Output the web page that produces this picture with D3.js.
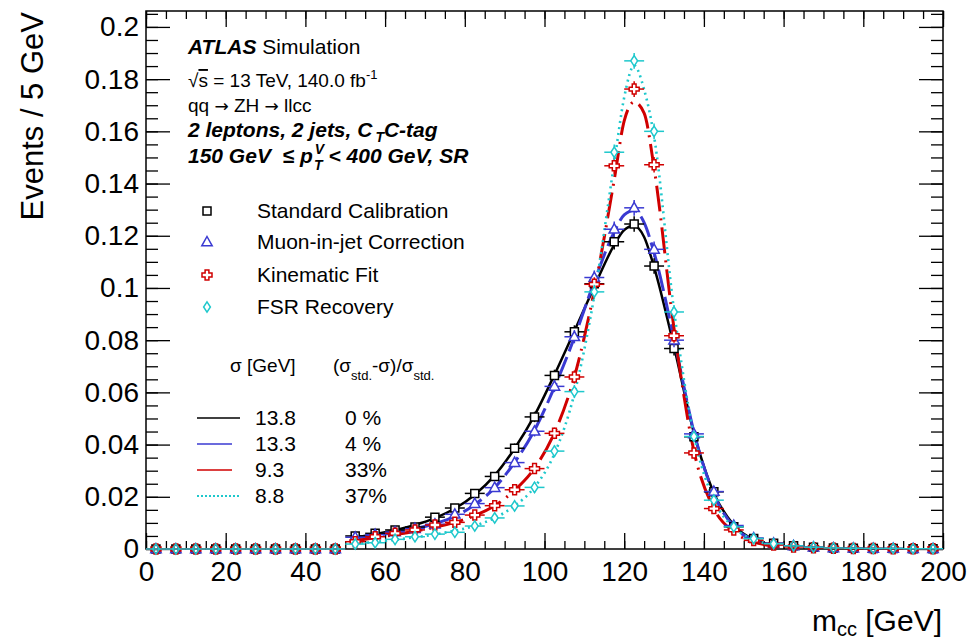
<!DOCTYPE html>
<html>
<head>
<meta charset="utf-8">
<script src="https://cdn.jsdelivr.net/npm/d3@7"></script>
<style>
  body { margin: 0; background: #fff; }
  text { font-family: "Liberation Sans", Arial, Helvetica, sans-serif; }
</style>
</head>
<body>
<svg width="976" height="643"></svg>
<script>
// bin centres, 5 GeV bins
const binCenters = [2.5, 7.5, 12.5, 17.5, 22.5, 27.5, 32.5, 37.5, 42.5, 47.5,
  52.5, 57.5, 62.5, 67.5, 72.5, 77.5, 82.5, 87.5, 92.5, 97.5,
  102.5, 107.5, 112.5, 117.5, 122.5, 127.5, 132.5, 137.5, 142.5, 147.5,
  152.5, 157.5, 162.5, 167.5, 172.5, 177.5, 182.5, 187.5, 192.5, 197.5]

const stdCal = [0, 0, 0, 0, 0, 0, 0, 0, 0, 0,
  0.005, 0.006, 0.0073, 0.0084, 0.0122, 0.0157, 0.0213, 0.0278, 0.0386, 0.0506,
  0.0665, 0.0832, 0.1016, 0.1177, 0.1245, 0.1084, 0.0768, 0.043, 0.0219, 0.0085,
  0.004, 0.0022, 0.0012, 0.0007, 0.0004, 0.0003, 0.0002, 0.0002, 0.0001, 0.0001]
const muonCorr = [0, 0, 0, 0, 0, 0, 0, 0, 0, 0,
  0.0045, 0.0055, 0.0065, 0.0078, 0.0095, 0.0133, 0.0174, 0.0235, 0.0331, 0.0451,
  0.0623, 0.0813, 0.104, 0.1225, 0.1307, 0.1148, 0.08, 0.0441, 0.022, 0.009,
  0.0042, 0.0022, 0.0012, 0.0007, 0.0004, 0.0003, 0.0002, 0.0002, 0.0001, 0.0001]
const kinFit = [0, 0, 0, 0, 0, 0, 0, 0, 0, 0,
  0.0028, 0.0047, 0.006, 0.0073, 0.0092, 0.0102, 0.013, 0.0166, 0.0227, 0.0308,
  0.0443, 0.0659, 0.1014, 0.1468, 0.1762, 0.1472, 0.0817, 0.0368, 0.0155, 0.0073,
  0.0033, 0.0015, 0.0008, 0.0005, 0.0003, 0.0002, 0.0002, 0.0001, 0.0001, 0.0001]
const fsrRec = [0, 0, 0, 0, 0, 0, 0, 0, 0, 0,
  0.0019, 0.0024, 0.0037, 0.0047, 0.0057, 0.0064, 0.0088, 0.0119, 0.0165, 0.0236,
  0.0375, 0.0603, 0.0985, 0.152, 0.187, 0.16, 0.0908, 0.0431, 0.0187, 0.0085,
  0.004, 0.002, 0.0012, 0.0007, 0.0004, 0.0003, 0.0002, 0.0002, 0.0001, 0.0001]
// vertical error half-widths (roughly the same for all four)
const yErr = [0, 0, 0, 0, 0, 0, 0, 0, 0, 0,
  0.0006, 0.0007, 0.0008, 0.0009, 0.001, 0.0012, 0.0014, 0.0016, 0.0018, 0.002,
  0.0022, 0.0025, 0.0027, 0.003, 0.003, 0.003, 0.0027, 0.002, 0.0015, 0.001,
  0.0007, 0.0005, 0.0003, 0.0002, 0.0002, 0.0002, 0.0002, 0.0002, 0.0002, 0.0002]

// fitted curves
const fitX = [52.5, 57.5, 62.5, 67.5, 72.5, 77.5, 82.5, 87.5, 92.5, 97.5, 102.5, 107.5,
  112.5, 117.5, 120, 122.5, 125, 127.5, 132.5, 137.5, 142.5, 147.5, 152.5, 157.5]
const fitStd = [0.0045, 0.0057, 0.0072, 0.0092, 0.0118, 0.0155, 0.0208, 0.0282, 0.0385, 0.0512, 0.0668, 0.0835,
  0.1005, 0.1165, 0.1222, 0.1238, 0.1195, 0.108, 0.0775, 0.0445, 0.0215, 0.0092, 0.0036, 0.0013]
const fitMuon = [0.0042, 0.0052, 0.0064, 0.0078, 0.0097, 0.0125, 0.017, 0.0235, 0.0332, 0.0455, 0.062, 0.081,
  0.1025, 0.1215, 0.128, 0.1297, 0.125, 0.1135, 0.0805, 0.0448, 0.021, 0.0086, 0.0033, 0.0012]
const fitKin = [0.0032, 0.0043, 0.0055, 0.0068, 0.0083, 0.0102, 0.0128, 0.0166, 0.0225, 0.031, 0.0445, 0.066,
  0.099, 0.1415, 0.164, 0.1712, 0.167, 0.146, 0.0845, 0.0375, 0.0155, 0.0065, 0.0027, 0.0011]
const fitFsr = [0.0021, 0.0027, 0.0035, 0.0045, 0.0056, 0.007, 0.0089, 0.0119, 0.0165, 0.0237, 0.0365, 0.0595,
  0.097, 0.148, 0.173, 0.1852, 0.176, 0.158, 0.0915, 0.0435, 0.0188, 0.0083, 0.0036, 0.0015]

const seriesNames = ["Standard Calibration", "Muon-in-jet Correction", "Kinematic Fit", "FSR Recovery"]
const sigmaVals = ["13.8", "13.3", "9.3", "8.8"]
const relGain = ["0 %", "4 %", "33%", "37%"]

const xMajor = [0, 20, 40, 60, 80, 100, 120, 140, 160, 180, 200]
const xTickLabels = ["0", "20", "40", "60", "80", "100", "120", "140", "160", "180", "200"]
const xMinor = d3.range(0, 201, 5)
const yMajor = [0, 0.02, 0.04, 0.06, 0.08, 0.1, 0.12, 0.14, 0.16, 0.18, 0.2]
const yTickLabels = ["0", "0.02", "0.04", "0.06", "0.08", "0.1", "0.12", "0.14", "0.16", "0.18", "0.2"]
const yMinor = d3.range(0, 0.2051, 0.005)

let svg = d3.select("svg")

let x = d3.scaleLinear().domain([0, 200]).range([146, 943])
let y = d3.scaleLinear().domain([0, 0.2061]).range([549, 11])

// frame
svg.append("rect")
  .attr("x", 146).attr("y", 11)
  .attr("width", 797).attr("height", 538)
  .style("fill", "none")
  .style("stroke", "black")
  .style("stroke-width", 1.5)

let axisStyle = g => {
  g.select(".domain").remove()
  g.selectAll("line").style("stroke", "black").style("stroke-width", 1.3)
  g.selectAll("text").style("font-family", "Liberation Sans, Arial, sans-serif").style("fill", "black")
}

// bottom
svg.append("g").attr("transform", "translate(0,549)")
  .call(d3.axisBottom(x).tickValues(xMajor).tickSize(-16).tickPadding(12)
    .tickFormat((d, i) => xTickLabels[i]))
  .call(axisStyle)
  .selectAll("text").style("font-size", "28px")
svg.append("g").attr("transform", "translate(0,549)")
  .call(d3.axisBottom(x).tickValues(xMinor).tickSize(-8).tickFormat(""))
  .call(axisStyle)
// top
svg.append("g").attr("transform", "translate(0,11)")
  .call(d3.axisTop(x).tickValues(xMajor).tickSize(-16).tickFormat(""))
  .call(axisStyle)
svg.append("g").attr("transform", "translate(0,11)")
  .call(d3.axisTop(x).tickValues(xMinor).tickSize(-8).tickFormat(""))
  .call(axisStyle)
// left
svg.append("g").attr("transform", "translate(146,0)")
  .call(d3.axisLeft(y).tickValues(yMajor).tickSize(-24).tickPadding(7)
    .tickFormat((d, i) => yTickLabels[i]))
  .call(axisStyle)
  .selectAll("text").style("font-size", "28px")
svg.append("g").attr("transform", "translate(146,0)")
  .call(d3.axisLeft(y).tickValues(yMinor).tickSize(-12).tickFormat(""))
  .call(axisStyle)
// right
svg.append("g").attr("transform", "translate(943,0)")
  .call(d3.axisRight(y).tickValues(yMajor).tickSize(-24).tickFormat(""))
  .call(axisStyle)
svg.append("g").attr("transform", "translate(943,0)")
  .call(d3.axisRight(y).tickValues(yMinor).tickSize(-12).tickFormat(""))
  .call(axisStyle)

// axis titles
svg.append("text")
  .attr("transform", "translate(43,12) rotate(-90)")
  .attr("text-anchor", "end")
  .style("font-size", "31px")
  .text("Events / 5 GeV")

let xt = svg.append("text")
  .attr("x", 942).attr("y", 631)
  .attr("text-anchor", "end")
  .style("font-size", "30px")
xt.append("tspan").text("m")
xt.append("tspan").attr("dy", 5).style("font-size", "20px").text("cc")
xt.append("tspan").attr("dy", -5).text(" [GeV]")

// marker shapes
const shapes = {
  square: "M-4,-4H4V4H-4Z",
  triangle: "M0,-5.5L5.2,3.8H-5.2Z",
  cross: "M-1.9,-5H1.9V-1.9H5V1.9H1.9V5H-1.9V1.9H-5V-1.9H-1.9Z",
  diamond: "M0,-5.2L3.4,0L0,5.2L-3.4,0Z"
}

const series = [
  { vals: stdCal, fit: fitStd, color: "#000000", shape: "square", dash: null, lw: 2.5 },
  { vals: muonCorr, fit: fitMuon, color: "#3a3ad2", shape: "triangle", dash: "22,6", lw: 3 },
  { vals: kinFit, fit: fitKin, color: "#d00000", shape: "cross", dash: "26,7,2,7", lw: 3 },
  { vals: fsrRec, fit: fitFsr, color: "#1ec8cc", shape: "diamond", dash: "2,4", lw: 2.6 }
]

let line = d3.line()
  .x((d, i) => x(fitX[i]))
  .y(d => y(d))
  .curve(d3.curveMonotoneX)

series.forEach(s => {
  svg.append("path")
    .datum(s.fit)
    .attr("d", line)
    .style("fill", "none")
    .style("stroke", s.color)
    .style("stroke-width", s.lw)
    .style("stroke-dasharray", s.dash)
})

series.forEach(s => {
  let g = svg.append("g")
  s.vals.forEach((v, i) => {
    let c = binCenters[i]
    g.append("line")
      .attr("x1", x(c - 2.5)).attr("x2", x(c + 2.5))
      .attr("y1", y(v)).attr("y2", y(v))
      .style("stroke", s.color).style("stroke-width", 1.5)
    if (yErr[i] > 0) {
      g.append("line")
        .attr("x1", x(c)).attr("x2", x(c))
        .attr("y1", y(v - yErr[i])).attr("y2", y(v + yErr[i]))
        .style("stroke", s.color).style("stroke-width", 1.5)
    }
    g.append("path")
      .attr("d", shapes[s.shape])
      .attr("transform", `translate(${x(c)},${y(v)})`)
      .style("fill", v > 0.0015 ? "white" : "none")
      .style("stroke", s.color)
      .style("stroke-width", 1.5)
  })
})

// ATLAS label
let t1 = svg.append("text").attr("x", 188).attr("y", 54).style("font-size", "21px")
t1.append("tspan").style("font-weight", "bold").style("font-style", "italic").text("ATLAS")
t1.append("tspan").text(" Simulation")

let t2 = svg.append("text").attr("x", 188).attr("y", 87).style("font-size", "19px")
t2.append("tspan").text("\u221A")
t2.append("tspan").style("text-decoration", "overline").text("s")
t2.append("tspan").text(" = 13 TeV, 140.0 fb")
t2.append("tspan").attr("dy", -8).style("font-size", "13px").text("-1")

let t3 = svg.append("text").attr("x", 188).attr("y", 112).style("font-size", "19px")
t3.append("tspan").text("qq ")
t3.append("tspan").style("font-family", "DejaVu Sans").style("font-size", "17px").text("\u2192")
t3.append("tspan").text(" ZH ")
t3.append("tspan").style("font-family", "DejaVu Sans").style("font-size", "17px").text("\u2192")
t3.append("tspan").text(" llcc")

let t4 = svg.append("text").attr("x", 188).attr("y", 137)
  .style("font-size", "21px").style("font-weight", "bold").style("font-style", "italic")
t4.append("tspan").text("2 leptons, 2 jets, C")
t4.append("tspan").attr("dx", 3).attr("dy", 5).style("font-size", "14px").text("T")
t4.append("tspan").attr("dy", -5).text("C-tag")

let t5 = svg.append("text").attr("x", 188).attr("y", 163)
  .style("white-space", "pre")
  .style("font-size", "21px").style("font-weight", "bold").style("font-style", "italic")
t5.append("tspan").text("150 GeV  \u2264 p")
t5.append("tspan").attr("dx", 2).attr("dy", -9).style("font-size", "14px").text("V")
t5.append("tspan").attr("dx", -10).attr("dy", 16).style("font-size", "14px").text("T")
t5.append("tspan").attr("dy", -7).text(" < 400 GeV, SR")

// marker legend
const legRows = [211, 242, 275, 307]
series.forEach((s, i) => {
  svg.append("path")
    .attr("d", shapes[s.shape])
    .attr("transform", `translate(207,${legRows[i]})`)
    .style("fill", "white")
    .style("stroke", s.color)
    .style("stroke-width", 1.5)
  svg.append("text")
    .attr("x", 257).attr("y", legRows[i] + 7)
    .style("font-size", "21px")
    .text(seriesNames[i])
})

// width legend
svg.append("text").attr("x", 230).attr("y", 372).style("font-size", "19px").text("\u03C3 [GeV]")
let h2 = svg.append("text").attr("x", 333).attr("y", 372).style("font-size", "19px")
h2.append("tspan").text("(\u03C3")
h2.append("tspan").attr("dy", 8).style("font-size", "13px").text("std.")
h2.append("tspan").attr("dy", -8).text("-\u03C3)/\u03C3")
h2.append("tspan").attr("dy", 8).style("font-size", "13px").text("std.")

const legRows2 = [418, 444, 470, 496]
const legLen = [43, 35, 35, 43]
series.forEach((s, i) => {
  svg.append("line")
    .attr("x1", 197).attr("x2", 197 + legLen[i])
    .attr("y1", legRows2[i]).attr("y2", legRows2[i])
    .style("stroke", s.color)
    .style("stroke-width", i == 3 ? 1.8 : 1.5)
    .style("stroke-dasharray", i == 3 ? "2,2" : null)
  svg.append("text").attr("x", 255).attr("y", legRows2[i] + 7)
    .style("font-size", "21px").text(sigmaVals[i])
  svg.append("text").attr("x", 345).attr("y", legRows2[i] + 7)
    .style("font-size", "21px").text(relGain[i])
})
</script>
</body>
</html>
